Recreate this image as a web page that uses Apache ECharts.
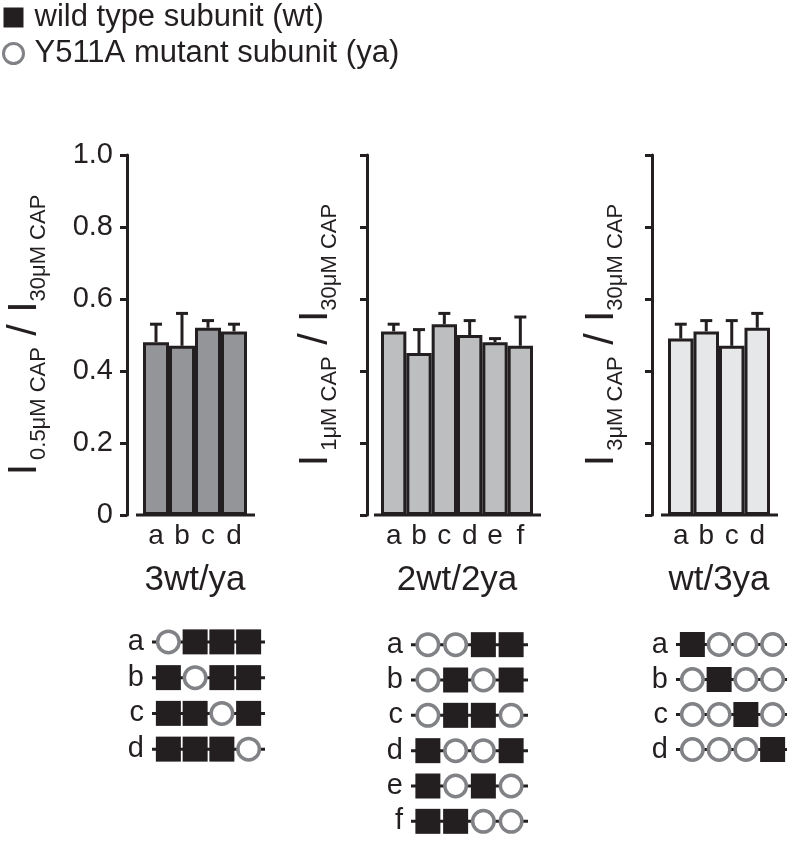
<!DOCTYPE html>
<html>
<head>
<meta charset="utf-8">
<script src="https://cdn.jsdelivr.net/npm/echarts@6/dist/echarts.min.js"></script>
<style>html,body{margin:0;padding:0;background:#fff}#c{width:787px;height:841px}</style>
</head>
<body>
<div id="c"></div>
<script>
// ---- data ----
const groupNames = ['3wt/ya', '2wt/2ya', 'wt/3ya'];
const cats1 = ['a', 'b', 'c', 'd'];
const vals1 = [0.48, 0.47, 0.52, 0.51];
const errs1 = [0.05, 0.09, 0.02, 0.02];
const cats2 = ['a', 'b', 'c', 'd', 'e', 'f'];
const vals2 = [0.51, 0.45, 0.53, 0.50, 0.48, 0.47];
const errs2 = [0.02, 0.065, 0.03, 0.04, 0.01, 0.08];
const cats3 = ['a', 'b', 'c', 'd'];
const vals3 = [0.49, 0.51, 0.47, 0.52];
const errs3 = [0.04, 0.03, 0.07, 0.04];
const yTickLabels = ['0', '0.2', '0.4', '0.6', '0.8', '1.0'];
const numSubs = ['0.5μM CAP', '1μM CAP', '3μM CAP'];
const denSub = '30μM CAP';
const constructs1 = [['ya','wt','wt','wt'], ['wt','ya','wt','wt'], ['wt','wt','ya','wt'], ['wt','wt','wt','ya']];
const constructs2 = [['ya','ya','wt','wt'], ['ya','wt','ya','wt'], ['ya','wt','wt','ya'], ['wt','ya','ya','wt'], ['wt','ya','wt','ya'], ['wt','wt','ya','ya']];
const constructs3 = [['wt','ya','ya','ya'], ['ya','wt','ya','ya'], ['ya','ya','wt','ya'], ['ya','ya','ya','wt']];
const legendNames = ['wild type subunit (wt)', 'Y511A mutant subunit (ya)'];

// ---- style ----
const FONT = '"Liberation Sans", Arial, Helvetica, sans-serif';
const INK = '#231f20';
const RING = '#808285';
const barColors = ['#939598', '#bcbec0', '#e6e7e8'];
const SUB_SIZE = 22;

const panels = [
  { cats: cats1, vals: vals1, errs: errs1, rows: constructs1, labels: true,
    bar: { left: 143, top: 155, width: 104, height: 360 }, yOffset: 16, nameGap: 79,
    diag: { left: 155, top: 624, width: 107, height: 143 } },
  { cats: cats2, vals: vals2, errs: errs2, rows: constructs2, labels: false,
    bar: { left: 381, top: 155, width: 152, height: 360 }, yOffset: 14, nameGap: 28,
    diag: { left: 414, top: 627, width: 111, height: 212 } },
  { cats: cats3, vals: vals3, errs: errs3, rows: constructs3, labels: false,
    bar: { left: 668, top: 155, width: 102, height: 360 }, yOffset: 16, nameGap: 27,
    diag: { left: 679, top: 627, width: 107, height: 140 } }
];

const grid = [], xAxis = [], yAxis = [], series = [], graphic = [];

panels.forEach((p, i) => {
  grid.push(Object.assign({ containLabel: false }, p.bar));
  xAxis.push({
    type: 'category', gridIndex: i, data: p.cats,
    axisLine: { show: false }, axisTick: { show: false },
    axisLabel: { fontSize: 28, fontFamily: FONT, color: INK, margin: 7 },
    name: groupNames[i], nameLocation: 'middle', nameGap: 48,
    nameTextStyle: { fontSize: 35, fontFamily: FONT, color: INK }
  });
  yAxis.push({
    type: 'value', gridIndex: i, min: 0, max: 1, interval: 0.2, offset: p.yOffset,
    axisLine: { show: true, lineStyle: { color: INK, width: 3 } },
    axisTick: { show: true, length: 7, lineStyle: { color: INK, width: 3 } },
    splitLine: { show: false },
    axisLabel: { show: p.labels, fontSize: 29, fontFamily: FONT, color: INK, margin: 14,
      formatter: v => yTickLabels[Math.round(v / 0.2)] },
    name: '{I|I}{s0|' + numSubs[i] + '}{I| / I}{s|' + denSub + '}',
    nameLocation: 'middle', nameRotate: 90, nameGap: p.nameGap,
    nameTextStyle: {
      rich: {
        I: { fontSize: 41, lineHeight: 44, verticalAlign: 'top', fontFamily: FONT, color: INK },
        s0: { fontSize: SUB_SIZE, lineHeight: SUB_SIZE, verticalAlign: 'top', padding: [24, 0, 0, 4], fontFamily: FONT, color: INK },
        s: { fontSize: SUB_SIZE, lineHeight: SUB_SIZE, verticalAlign: 'top', padding: [24, 0, 0, 0], fontFamily: FONT, color: INK }
      }
    }
  });
  series.push({
    type: 'bar', xAxisIndex: i, yAxisIndex: i, data: p.vals, barWidth: '100%',
    itemStyle: { color: barColors[i], borderColor: INK, borderWidth: 3 },
    silent: true
  });
  series.push({
    type: 'custom', xAxisIndex: i, yAxisIndex: i, z: 5,
    data: p.vals.map((v, k) => [k, v, p.errs[k]]),
    encode: { x: 0, y: 1 },
    renderItem: (params, api) => {
      const k = api.value(0), v = api.value(1), e = api.value(2);
      const p0 = api.coord([k, v]);
      const p1 = api.coord([k, v + e]);
      const st = { stroke: INK, lineWidth: 3 };
      return { type: 'group', children: [
        { type: 'line', shape: { x1: p0[0], y1: p0[1], x2: p1[0], y2: p1[1] }, style: st },
        { type: 'line', shape: { x1: p1[0] - 6, y1: p1[1], x2: p1[0] + 6, y2: p1[1] }, style: st }
      ] };
    }
  });
  // x-axis baseline, extended slightly beyond the bars
  graphic.push({ type: 'line', z: 10,
    shape: { x1: p.bar.left - 7, y1: p.bar.top + p.bar.height, x2: p.bar.left + p.bar.width + 8, y2: p.bar.top + p.bar.height },
    style: { stroke: INK, lineWidth: 3 } });
});

// subunit diagrams
panels.forEach((p, i) => {
  const gi = 3 + i;
  grid.push(Object.assign({ containLabel: false }, p.diag));
  xAxis.push({ type: 'category', gridIndex: gi, data: [0, 1, 2, 3], show: false });
  yAxis.push({
    type: 'category', gridIndex: gi, inverse: true, data: p.cats,
    axisLine: { show: false }, axisTick: { show: false }, splitLine: { show: false },
    axisLabel: { interval: 0, fontSize: 29, fontFamily: FONT, color: INK, margin: 11 }
  });
  series.push({
    type: 'custom', xAxisIndex: gi, yAxisIndex: gi, z: 1,
    data: p.rows.map((r, k) => [0, k]),
    encode: { x: 0, y: 1 },
    renderItem: (params, api) => {
      const row = api.value(1);
      const a = api.coord([0, row]);
      const b = api.coord([3, row]);
      const half = api.size([1, 0])[0] / 2 + 3;
      return { type: 'line', shape: { x1: a[0] - half, y1: a[1], x2: b[0] + half, y2: b[1] },
        style: { stroke: INK, lineWidth: 3 } };
    }
  });
  const wt = [], ya = [];
  p.rows.forEach((r, k) => r.forEach((s, j) => (s === 'wt' ? wt : ya).push([j, k])));
  series.push({
    type: 'scatter', name: legendNames[0], xAxisIndex: gi, yAxisIndex: gi, z: 3,
    symbol: 'rect', symbolSize: 25, data: wt,
    itemStyle: { color: INK, opacity: 1 }
  });
  series.push({
    type: 'scatter', name: legendNames[1], xAxisIndex: gi, yAxisIndex: gi, z: 3,
    symbol: 'circle', symbolSize: 21.5, data: ya,
    itemStyle: { color: '#ffffff', borderColor: RING, borderWidth: 3.5, opacity: 1 }
  });
});

const chart = echarts.init(document.getElementById('c'), null, { renderer: 'canvas' });
chart.setOption({
  animation: false,
  backgroundColor: '#ffffff',
  textStyle: { fontFamily: FONT, color: INK },
  legend: {
    orient: 'vertical', left: 2, top: 2, padding: 0, itemGap: 5,
    itemWidth: 20, itemHeight: 20, selectedMode: false,
    data: [
      { name: legendNames[0], icon: 'rect', itemStyle: { color: INK, borderWidth: 0 } },
      { name: legendNames[1], icon: 'path://M0,0 m-1,0 a1,1 0 1,0 2,0 a1,1 0 1,0 -2,0 z',
        itemStyle: { color: '#ffffff', borderColor: RING, borderWidth: 3 } }
    ],
    textStyle: { fontSize: 31, lineHeight: 31, fontFamily: FONT, color: INK, padding: [0, 0, 0, 6] }
  },
  grid, xAxis, yAxis, series, graphic
});
</script>
</body>
</html>
